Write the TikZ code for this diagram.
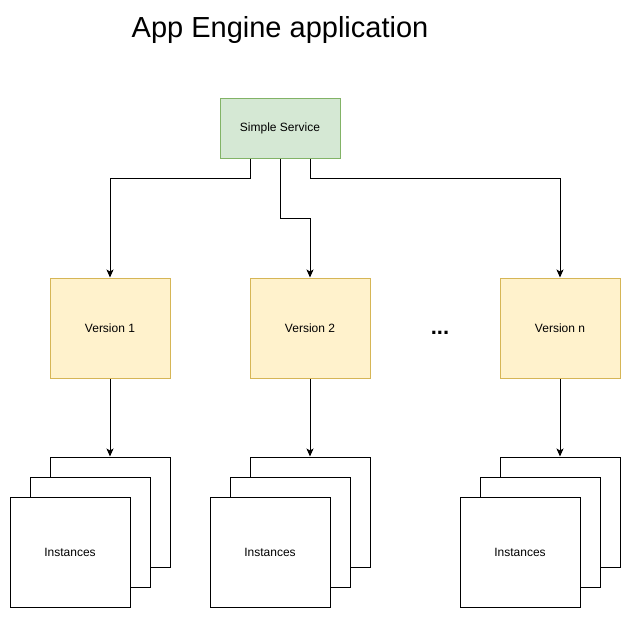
\documentclass[tikz,border=0pt]{standalone}
\usepackage{fontspec}
\setmainfont{Liberation Sans}
\usetikzlibrary{arrows.meta}

\definecolor{svcfill}{HTML}{D5E8D4}
\definecolor{svcline}{HTML}{82B366}
\definecolor{verfill}{HTML}{FFF2CC}
\definecolor{verline}{HTML}{D6B656}

\begin{document}
\begin{tikzpicture}[x=1pt,y=-1pt,line width=1pt,
    box/.style={draw,inner sep=0pt,minimum width=120pt,font=\fontsize{12}{14}\selectfont},
    service/.style={box,draw=svcline,fill=svcfill,minimum height=60pt},
    version/.style={box,draw=verline,fill=verfill,minimum height=100pt},
    inst/.style={box,draw=black,fill=white,minimum height=110pt},
    arr/.style={-{Stealth[length=8pt,width=7pt,inset=2pt]}}]
  \useasboundingbox (0,0) rectangle (631,618);

  \node[font=\fontsize{29}{34}\selectfont] (title) at (280,30) {App Engine application};
  \node[service] (svc) at (280,128) {Simple Service};

  \foreach \name/\cx/\txt in {v1/110/Version 1, v2/310/Version 2, vn/560/Version n}
    \node[version] (\name) at (\cx,328) {\txt};

  \node[font=\fontsize{22}{26}\selectfont\bfseries] (dots) at (440,333) {...};

  % three stacked instance boxes under each version
  \foreach \n/\cx in {1/110, 2/310, n/560} {
    \node[inst] (back\n) at (\cx,512) {};
    \node[inst] (mid\n) at (\cx-20,532) {};
    \node[inst] (inst\n) at (\cx-40,552) {Instances};
    \draw[arr] (v\n) -- (back\n);
  }

  \draw[arr] ([xshift=-30pt]svc.south) -- ++(0,20) -| (v1.north);
  \draw[arr] (svc.south) -- ++(0,60) -| (v2.north);
  \draw[arr] ([xshift=30pt]svc.south) -- ++(0,20) -| (vn.north);
\end{tikzpicture}
\end{document}
